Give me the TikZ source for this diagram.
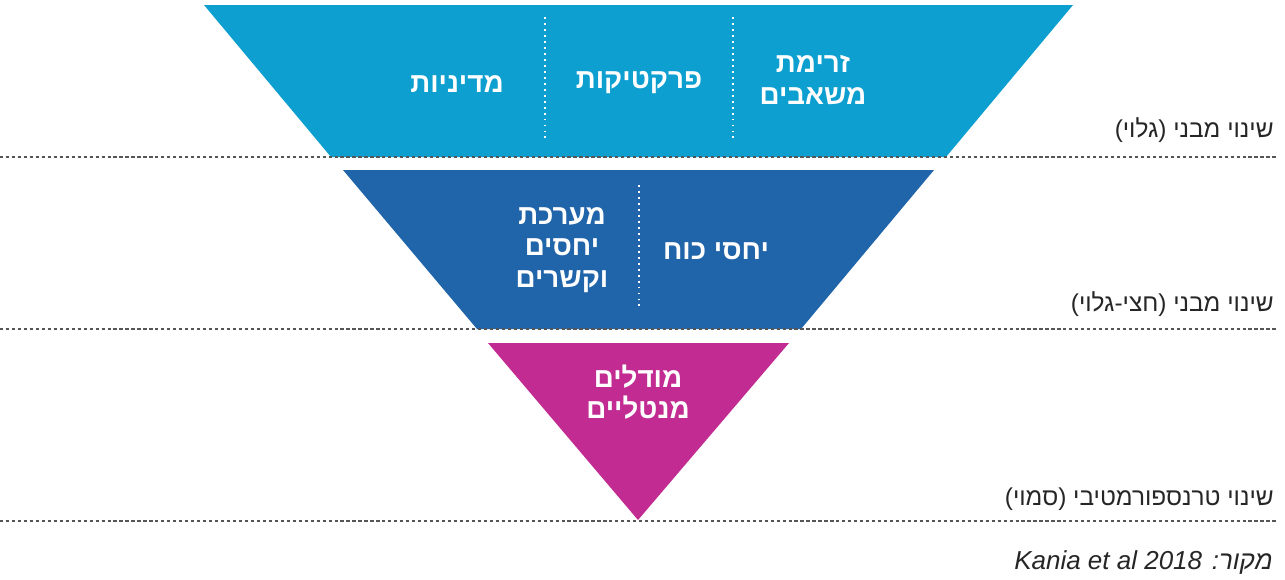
\documentclass[tikz,border=0pt]{standalone}
\usepackage{fontspec}
\setmainfont{Liberation Sans}
\newfontfamily\heb[Script=Hebrew]{Liberation Sans}
\TeXXeTstate=1
\definecolor{cyanA}{HTML}{0C9FD0}
\definecolor{blueB}{HTML}{2064AA}
\definecolor{magC}{HTML}{C12B92}
\definecolor{sepgray}{HTML}{555555}
\begin{document}
\begin{tikzpicture}[x=0.02cm,y=-0.02cm,
  sepline/.style={draw=sepgray, line width=0.6pt, dash pattern=on 1.8pt off 1.6pt},
  divider/.style={draw=white, line width=1.1pt, dash pattern=on 1.1pt off 2.3pt},
  wlabel/.style={text=white, align=center, inner sep=0pt,
    font={\heb\bfseries\fontsize{15.8}{17.9}\selectfont}},
  rlabel/.style={text=black!85, anchor=base east, inner sep=0pt,
    font={\heb\fontsize{13.9}{16}\selectfont}}]
\useasboundingbox (0,0) rectangle (1285,579);
% shapes
\fill[cyanA] (204,5) -- (1073,5) -- (946,157) -- (331,157) -- cycle;
\fill[blueB] (343,170) -- (934,170) -- (801,329) -- (477,329) -- cycle;
\fill[magC] (488,343) -- (789,343) -- (638,520) -- cycle;
% dividers
\coordinate (d1a) at (545,17); \coordinate (d1b) at (545,140);
\coordinate (d2a) at (733,17); \coordinate (d2b) at (733,140);
\coordinate (d3a) at (639,185); \coordinate (d3b) at (639,310);
\draw[divider] (d1a) -- (d1b);
\draw[divider] (d2a) -- (d2b);
\draw[divider] (d3a) -- (d3b);
% separator lines
\coordinate (s1a) at (0,157); \coordinate (s1b) at (1276,157);
\coordinate (s2a) at (0,329); \coordinate (s2b) at (1276,329);
\coordinate (s3a) at (0,521); \coordinate (s3b) at (1276,521);
\draw[sepline] (s1a) -- (s1b);
\draw[sepline] (s2a) -- (s2b);
\draw[sepline] (s3a) -- (s3b);
% texts in shapes
\node[wlabel] (flow) at (813,80) {\beginR זרימת\endR\\\beginR משאבים\endR};
\node[wlabel] (prac) at (639,83) {\beginR פרקטיקות\endR};
\node[wlabel] (poli) at (457,84) {\beginR מדיניות\endR};
\node[wlabel] (power) at (716,251) {\beginR יחסי כוח\endR};
\node[wlabel] (rel) at (562,250) {\beginR מערכת\endR\\\beginR יחסים\endR\\\beginR וקשרים\endR};
\node[wlabel] (ment) at (638,392) {\beginR מודלים\endR\\\beginR מנטליים\endR};
% side labels
\node[rlabel] (l1) at (1274,137) {\beginR שינוי מבני (גלוי)\endR};
\node[rlabel] (l2) at (1274,311) {\beginR שינוי מבני (חצי-גלוי)\endR};
\node[rlabel] (l3) at (1274,505) {\beginR שינוי טרנספורמטיבי (סמוי)\endR};
\node[rlabel, font={\heb\itshape\fontsize{14.8}{16}\selectfont}] (src) at (1273,569) {\beginR מקור: \beginL Kania et al 2018\endL\endR};
\end{tikzpicture}
\end{document}
